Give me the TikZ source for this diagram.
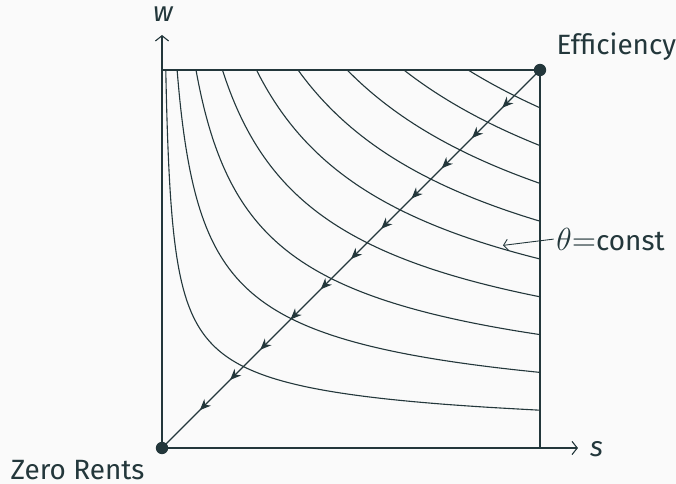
\documentclass[tikz,border=0pt]{standalone}
\usepackage{fontspec}
\setmainfont{Fira Sans}
\setsansfont{Fira Sans}
\usepackage{xcolor}
\usepackage{tikz}
\usetikzlibrary{arrows.meta,calc,positioning,decorations.markings}

\definecolor{darkteal}{HTML}{23373B}
\definecolor{paperbg}{HTML}{FAFAFA}

\tikzset{
  isoline/.style={line width=0.5pt, draw=darkteal},
  axisline/.style={line width=0.5pt, draw=darkteal, -{Straight Barb[length=2.4pt,width=6pt]}},
  flowline/.style={line width=0.5pt, draw=darkteal, postaction={decorate},
    decoration={markings, mark=between positions 0.1 and 0.91 step 0.08 with
      {\arrow[darkteal]{Stealth[length=5pt,width=4.2pt,inset=1.6pt]}}}},
  cornerdot/.style={circle, fill=darkteal, inner sep=0pt, minimum size=5.6pt},
  lbl/.style={text=darkteal, inner sep=0pt, font=\fontsize{12.6}{15}\selectfont}
}

\begin{document}
\begin{tikzpicture}[x=6cm,y=6cm,line width=0.5pt]
  \fill[paperbg] (-0.4286,-0.0952) rectangle (1.3598,1.1852);
  \useasboundingbox (-0.4286,-0.0952) rectangle (1.3598,1.1852);

  \coordinate (wtip) at (0,1.0926);
  \coordinate (stip) at (1.1005,0);
  \coordinate (tl) at (0,1);
  \coordinate (br) at (1,0);
  \coordinate (hit) at (0.902,0.536);

  \foreach \k in {1,...,9}
    \draw[isoline] plot[domain=\k/10:1, samples=120, smooth, variable=\w]
      ({(\k/10)^2/(\w)^2}, \w);

  \node[cornerdot] (zr) at (0,0) {};
  \node[cornerdot] (eff) at (1,1) {};

  \draw[isoline] (tl) -- (eff.center) -- (br);
  \draw[axisline] (zr.center) -- (wtip);
  \draw[axisline] (zr.center) -- (stip);
  \draw[flowline] (eff.center) -- (zr.center);

  \node[lbl, anchor=base] (wlbl) at (0.003,1.127) {\itshape w};
  \node[lbl, anchor=base] (slbl) at (1.1495,-0.0212) {\itshape s};
  \node[lbl, anchor=base west] (efflbl) at (1.0423,1.0423) {Efficiency};
  \node[lbl, anchor=base west] (zrlbl) at (-0.4021,-0.084) {Zero Rents};
  \node[lbl, anchor=base west] (thlbl) at (1.042,0.5238)
    {{\fontsize{14}{16}\selectfont$\theta{=}$}const};

  \draw[line width=0.4pt, darkteal, -{Straight Barb[length=2pt,width=5pt]}]
    ([xshift=-1pt]thlbl.west) -- (hit);
\end{tikzpicture}
\end{document}
